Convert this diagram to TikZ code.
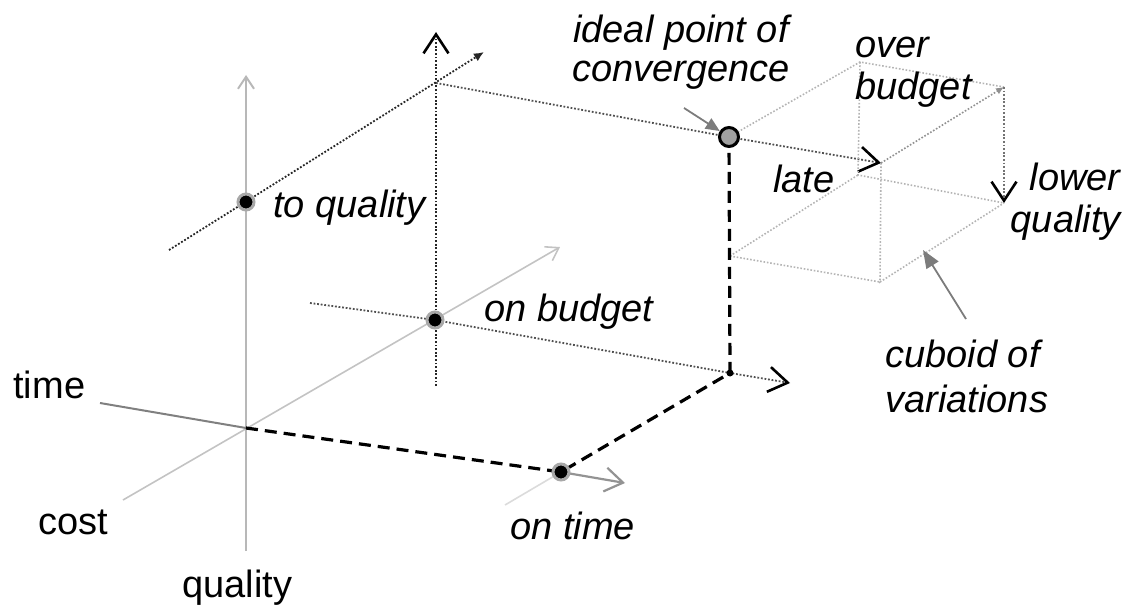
\documentclass[tikz,border=0pt]{standalone}
\usepackage{fontspec}
\setmainfont{Liberation Sans}
\usetikzlibrary{arrows.meta,positioning}
\definecolor{axisgray}{HTML}{B8B8B8}
\definecolor{timegray}{HTML}{808080}
\definecolor{cubegray}{HTML}{B4B4B4}
\definecolor{dotgray}{HTML}{505050}
\definecolor{halo}{HTML}{A8A8A8}
\definecolor{idealfill}{HTML}{A0A0A0}
\definecolor{pointgray}{HTML}{7C7C7C}
\tikzset{lbl/.style={font=\fontsize{19}{21}\selectfont\itshape,inner sep=0pt},
 axlbl/.style={font=\fontsize{19}{21}\selectfont,inner sep=0pt},
 pt/.style={circle,fill=black,draw=halo,line width=1.5pt,minimum size=8pt,inner sep=0pt},
 cornerpt/.style={circle,fill=black,minimum size=3.5pt,inner sep=0pt},
 idealpt/.style={circle,fill=idealfill,draw=black,line width=1.5pt,minimum size=9.5pt,inner sep=0pt},
 axisline/.style={draw=axisgray,line width=1pt},
 gbarb/.style={-{Straight Barb[length=6pt,width=8pt]}},
 kbarb/.style={-{Straight Barb[color=black,length=9.5pt,width=12.5pt,line width=1.3pt]}},
 darkdots/.style={draw=black!85,line width=0.9pt,dash pattern=on 0.9pt off 0.9pt},
 greydots/.style={draw=dotgray,line width=0.9pt,dash pattern=on 0.9pt off 0.9pt},
 cubeline/.style={draw=cubegray,line width=0.8pt,dash pattern=on 0.8pt off 0.9pt},
 pathdash/.style={draw=black,line width=1.6pt,dash pattern=on 6pt off 3.5pt},
 pointer/.style={draw=pointgray,line width=0.9pt,-{Triangle[length=7pt,width=6pt]}}}

\begin{document}
\begin{tikzpicture}[x=0.5pt,y=-0.5pt]
\useasboundingbox (0,0) rectangle (1133,609);
% axes
\coordinate (O) at (246,428);
\coordinate (qtop) at (246,75);\coordinate (qbot) at (246,551);
\coordinate (tbeg) at (100,403);\coordinate (tend) at (625,483);
\coordinate (cbeg) at (123,500);\coordinate (cend) at (560,247);
\coordinate (ontime) at (561,472);\coordinate (onbud) at (435,320);\coordinate (toq) at (246,202);
\coordinate (K) at (730,373);\coordinate (I) at (729,137);
% planes
\coordinate (ulbeg) at (169,250);\coordinate (ultip) at (484,52);
\coordinate (vbot) at (436,386);\coordinate (vtop) at (436,32);\coordinate (V) at (436,83);
\coordinate (llbeg) at (310,303);\coordinate (lltip) at (790,383);
\coordinate (fade) at (505,505);
% cuboid
\coordinate (T) at (881,163);\coordinate (C) at (860,62);\coordinate (TC) at (1004,87);
\coordinate (Q) at (730,256);\coordinate (TQ) at (880,282);\coordinate (CQ) at (858,175);
\coordinate (TCQ) at (1004,203);
\coordinate (iptr) at (684,108);\coordinate (cptr) at (966,319);\coordinate (ctip) at (923,250);

\draw[axisline,gbarb] (qbot)--(qtop);
\draw[axisline,draw=axisgray!85,line width=0.8pt,gbarb] (cbeg)--(cend);
\draw[draw=timegray,line width=1pt] (tbeg)--(O);
\draw[draw=timegray!85,line width=1.1pt,-{Straight Barb[length=9pt,width=12pt]}] (ontime)--(tend);
\draw[draw=axisgray!50,line width=0.8pt] (fade)--(ontime);

\draw[darkdots,-{Latex[length=5pt,width=4.5pt]}] (ulbeg)--(ultip);
\draw[darkdots,kbarb] (vbot)--(vtop);
\draw[greydots,kbarb] (V)--(I)--(T);
\draw[greydots,kbarb] (llbeg)--(onbud)--(K)--(lltip);

\draw[cubeline] (I)--(C)--(TC);
\draw[cubeline] (C)--(CQ)--(TCQ);
\draw[cubeline] (T)--(TQ)--(TCQ);
\draw[cubeline] (Q)--(TQ);
\draw[cubeline] (Q)--(CQ);
\draw[cubeline,draw=cubegray!80!black,-{Latex[length=4pt,width=3.5pt]}] (T)--(TC);
\draw[greydots,draw=black!55,kbarb] (TC)--(TCQ);

\draw[pathdash] (O)--(ontime)--(K)--(I);

\node[pt] (toqdot) at (toq) {};
\node[pt] (onbuddot) at (onbud) {};
\node[pt] (ontimedot) at (ontime) {};
\node[cornerpt] (Kdot) at (K) {};
\node[idealpt] (idealdot) at (I) {};
\draw[pointer] (iptr)--(idealdot);
\draw[pointer,-{Triangle[length=9pt,width=7pt]}] (cptr)--(ctip);

\node[lbl,anchor=base west] (toqlbl) at (273,217) {to quality};
\node[lbl,anchor=base west] (onbudlbl) at (484,321) {on budget};
\node[lbl,anchor=base west] (ontimelbl) at (510,539) {on time};
\node[lbl,anchor=base west] (latelbl) at (773,192) {late};
\node[lbl,font=\fontsize{19}{19.5}\selectfont\itshape,align=center,anchor=base] (ideallbl) at (681,82) {ideal point of\\convergence};
\node[lbl,align=left,anchor=base west] (overlbl) at (855,100) {over\\budget};
\node[lbl,align=right,anchor=base east] (lowerlbl) at (1121,233) {lower\\quality};
\node[lbl,font=\fontsize{19}{22.5}\selectfont\itshape,align=left,anchor=base west] (cubelbl) at (885,412) {cuboid of\\variations};
\node[axlbl,anchor=base west] (timelbl) at (13,398) {time};
\node[axlbl,anchor=base west] (costlbl) at (38,534) {cost};
\node[axlbl,anchor=base west] (quallbl) at (182,597) {quality};
\end{tikzpicture}
\end{document}
